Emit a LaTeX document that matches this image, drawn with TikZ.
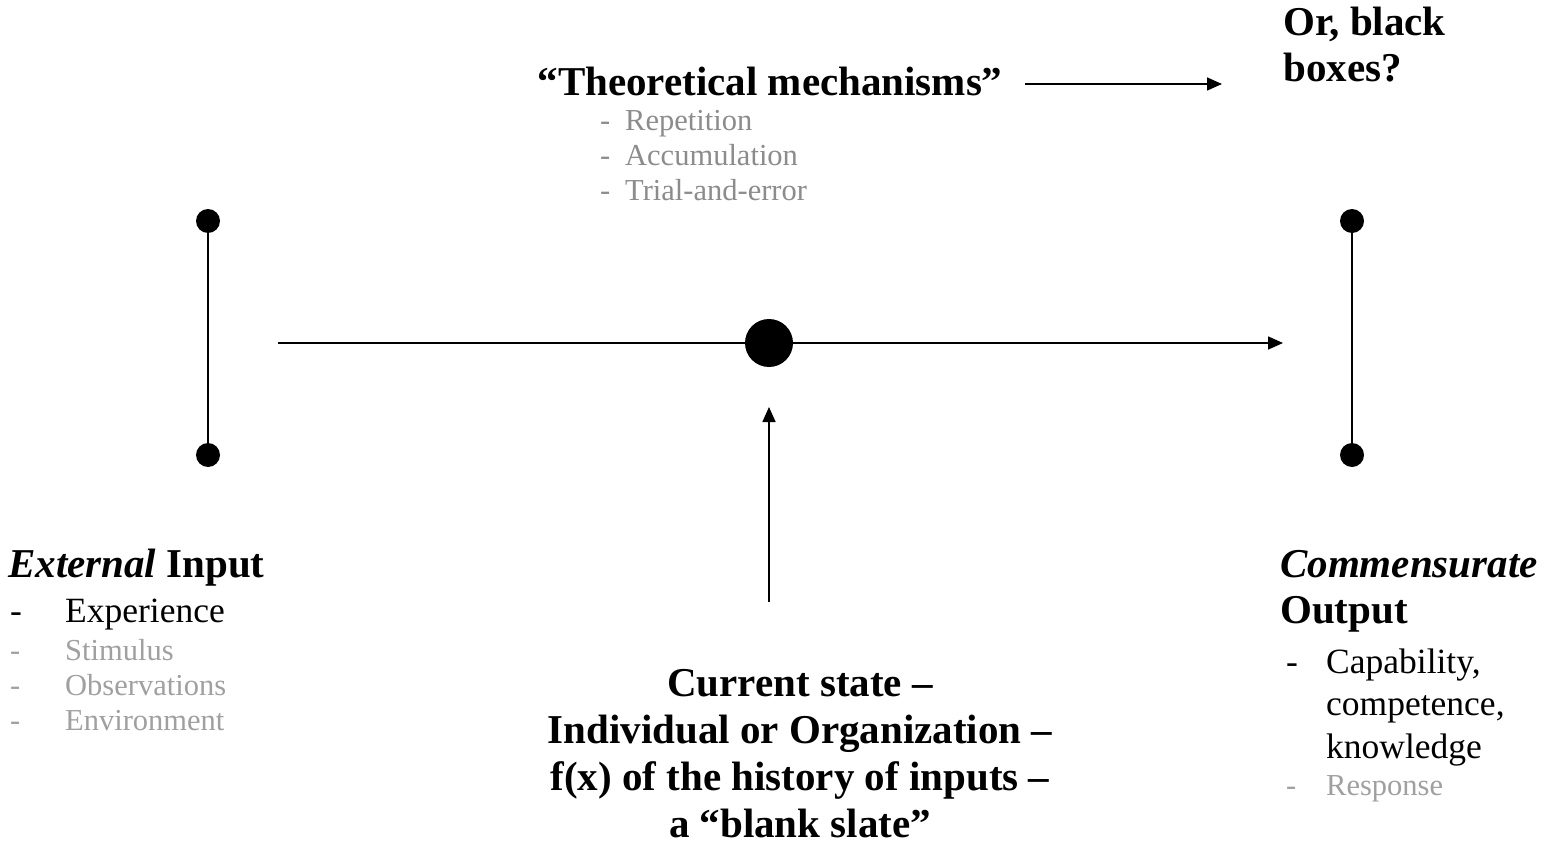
\documentclass[tikz,border=0pt]{standalone}
\usepackage{fontspec}
\setmainfont{Liberation Serif}
\usetikzlibrary{arrows.meta,positioning}
\definecolor{itemgray}{RGB}{140,140,140}
\definecolor{lightgray}{RGB}{160,160,160}

\begin{document}
\begin{tikzpicture}[
    x=1pt, y=-1pt,
    head/.style={inner sep=0pt, font=\fontsize{41}{46}\selectfont\bfseries},
    item/.style={inner sep=0pt, anchor=base west, font=\fontsize{30.5}{35}\selectfont, text=itemgray},
    blackitem/.style={item, text=black, font=\fontsize{35.5}{42}\selectfont},
    dot/.style={circle, fill=black, inner sep=0pt, minimum size=24pt},
    bigdot/.style={circle, fill=black, inner sep=0pt, minimum size=48pt},
    arrow/.style={-{Triangle[length=15pt,width=13pt]}, line width=1.6pt},
    bar/.style={line width=1.6pt}
]
    \useasboundingbox (0,0) rectangle (1548,845);

    % Top: mechanisms
    \node[head, anchor=base] (mech) at (770,96) {``Theoretical mechanisms''};
    \node[item] (rep) at (600,131) {\makebox[25pt][l]{-}Repetition};
    \node[item] (acc) at (600,166) {\makebox[25pt][l]{-}Accumulation};
    \node[item] (trial) at (600,201) {\makebox[25pt][l]{-}Trial-and-error};
    \node[head, anchor=base west, align=left] (black) at (1283,82) {Or, black\\boxes?};
    \coordinate (mechend) at (1025,84);
    \coordinate (blackend) at (1222,84);
    \draw[arrow] (mechend) -- (blackend);

    % Input bar
    \node[dot] (intop) at (208,221) {};
    \node[dot] (inbot) at (208,455) {};
    \draw[bar] (intop) -- (inbot);

    % Output bar
    \node[dot] (outtop) at (1352,221) {};
    \node[dot] (outbot) at (1352,455) {};
    \draw[bar] (outtop) -- (outbot);

    % Main line through the current state
    \node[bigdot] (state) at (769,343) {};
    \coordinate (start) at (278,343);
    \coordinate (finish) at (1283,343);
    \draw[bar] (start) -- (state);
    \draw[arrow] (state) -- (finish);
    \coordinate (history) at (769,602);
    \draw[arrow] (history) -- (state.south |- 0,407);

    % Input text
    \node[head, anchor=base west] (input) at (8,577) {\textit{External} Input};
    \node[blackitem] (exp) at (10,622) {\makebox[55pt][l]{-}Experience};
    \node[item, text=lightgray] (stim) at (10,660) {\makebox[55pt][l]{-}Stimulus};
    \node[item, text=lightgray] (obs) at (10,695) {\makebox[55pt][l]{-}Observations};
    \node[item, text=lightgray] (env) at (10,730) {\makebox[55pt][l]{-}Environment};

    % Current state text
    \node[head, anchor=base, align=center, font=\fontsize{41}{47}\selectfont\bfseries] (statetext) at (800,837)
        {Current state --\\Individual or Organization --\\f(x) of the history of inputs --\\a ``blank slate''};

    % Output text
    \node[head, anchor=base west, align=left] (output) at (1280,623) {\textit{Commensurate}\\Output};
    \node[blackitem, align=left, font=\fontsize{35.5}{42.5}\selectfont] (cap) at (1286,758) {\makebox[40pt][l]{-}Capability,\\\hspace*{40pt}competence,\\\hspace*{40pt}knowledge};
    \node[item, text=lightgray] (resp) at (1286,795) {\makebox[40pt][l]{-}Response};
\end{tikzpicture}
\end{document}
